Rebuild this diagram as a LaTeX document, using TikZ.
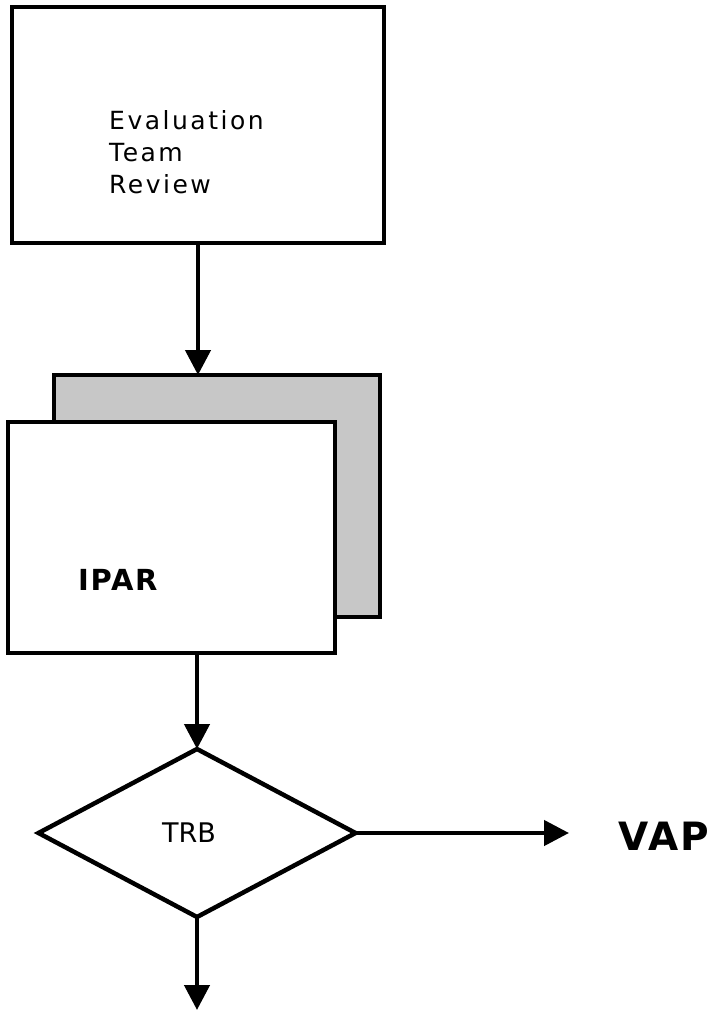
\documentclass[tikz,border=0pt]{standalone}
\usepackage{fontspec}
\setmainfont{DejaVu Sans}
\usetikzlibrary{arrows.meta}
\usetikzlibrary{shapes.geometric}

\begin{document}
\begin{tikzpicture}[x = 1pt, y = -1pt]
	\tikzstyle{boxStyle} = [shape = rectangle, draw, line width = 4.5pt, inner sep = 0pt, outer sep = 0pt]
	\tikzstyle{backStyle} = [boxStyle, fill = black!22]
	\tikzstyle{frontStyle} = [boxStyle, fill = white]
	\tikzstyle{decisionStyle} = [shape = diamond, draw, line width = 4.5pt, inner sep = 0pt, outer sep = 0pt, font = \fontsize{27}{30}\selectfont]
	\tikzstyle{flowStyle} = [line width = 4.5pt, -{Triangle[length = 25pt, width = 25pt]}]
	\useasboundingbox (0, 0) rectangle (709, 1010);
	\node[boxStyle, minimum width = 372pt, minimum height = 236pt] (review) at (198, 125) {};
	\node[anchor = north west, inner sep = 0pt, align = left, font = \fontsize{25}{32}\selectfont\addfontfeature{LetterSpace = 10}] (reviewtxt) at (109, 110) {Evaluation\\Team\\Review};
	\node[backStyle, minimum width = 326pt, minimum height = 242pt] (back) at (217, 496) {};
	\node[frontStyle, minimum width = 327pt, minimum height = 231pt] (ipar) at (171.5, 537.5) {};
	\node[anchor = base west, inner sep = 0pt, font = \fontsize{29}{32}\bfseries\selectfont\addfontfeature{LetterSpace = 6}] (ipartxt) at (78, 590) {IPAR};
	\node[decisionStyle, minimum width = 317pt, minimum height = 168pt] (trb) at (197, 833) {TRB\hspace*{16pt}};
	\node[anchor = base west, inner sep = 0pt, font = \fontsize{39}{44}\bfseries\selectfont\addfontfeature{LetterSpace = 6}] (vap) at (618, 850) {VAP};
	\coordinate (exit) at (197, 1010);
	\draw[flowStyle] (review.south) -- (review.south |- back.north);
	\draw[flowStyle] (ipar.south -| trb.north) -- (trb.north);
	\draw[flowStyle, shorten > = 49pt] (trb.east) -- (trb.east -| vap.west);
	\draw[flowStyle] (trb.south) -- (exit);
\end{tikzpicture}
\end{document}
